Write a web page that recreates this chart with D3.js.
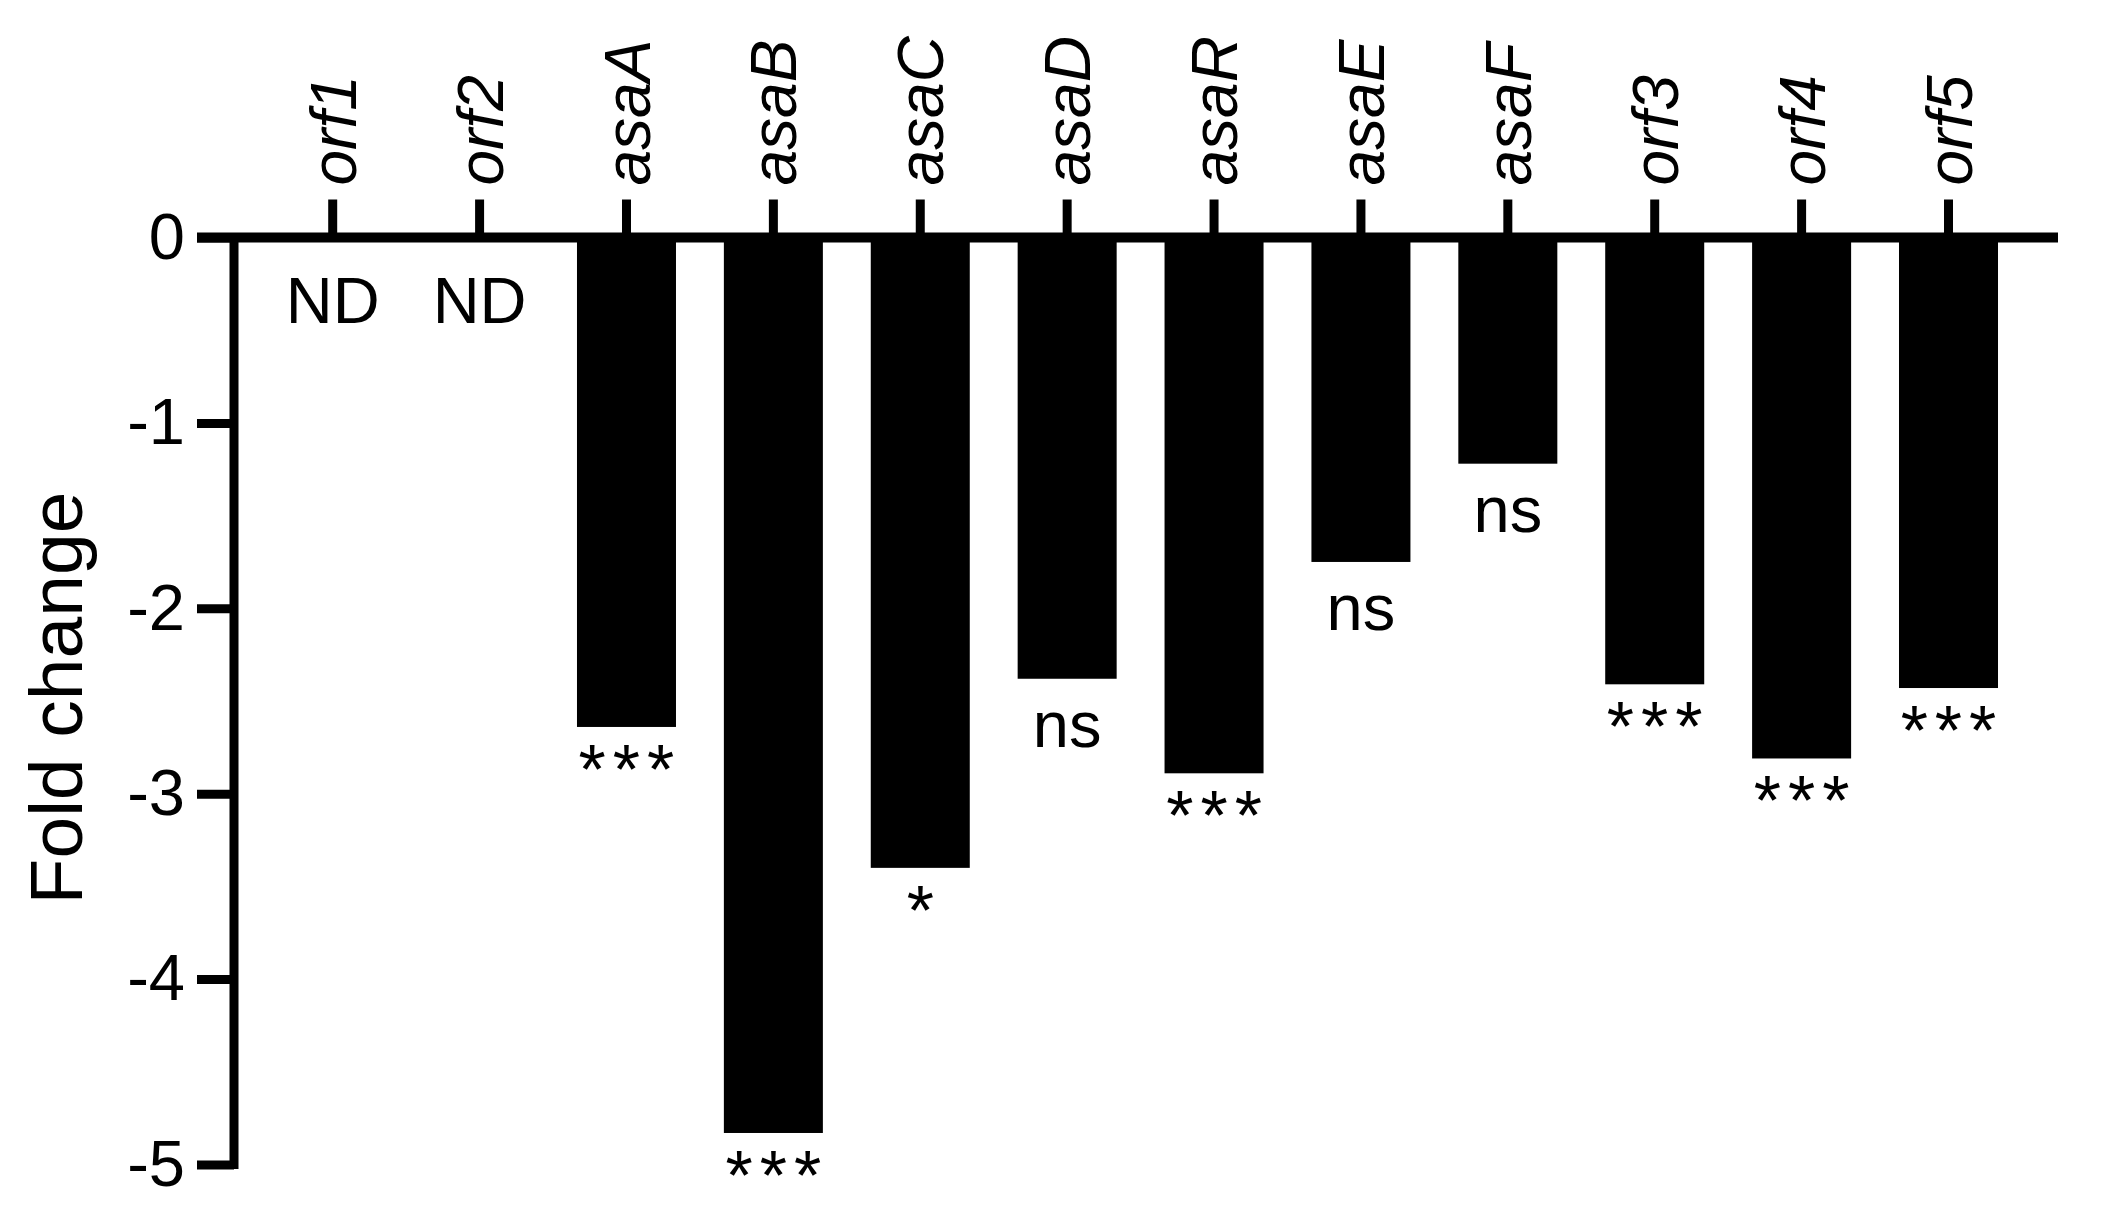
<!DOCTYPE html>
<html>
<head>
<meta charset="utf-8">
<script src="https://cdn.jsdelivr.net/npm/d3@7"></script>
<style>
  html, body { margin: 0; padding: 0; background: #fff; }
  svg { display: block; font-family: "Liberation Sans", Arial, Helvetica, sans-serif; }
</style>
</head>
<body>
<svg id="chart" width="2113" height="1206"></svg>
<script>
// ---- data ----
const categories = ["orf1", "orf2", "asaA", "asaB", "asaC", "asaD", "asaR", "asaE", "asaF", "orf3", "orf4", "orf5"];
const foldChange = [null, null, -2.64, -4.83, -3.40, -2.38, -2.89, -1.75, -1.22, -2.41, -2.81, -2.43];
const significance = ["ND", "ND", "***", "***", "*", "ns", "***", "ns", "ns", "***", "***", "***"];
const yTicks = [0, -1, -2, -3, -4, -5];
const yTitle = "Fold change";

// ---- layout ----
const W = 2113, H = 1206;
const axisX = 234;          // y-axis line position
const axisLeftEnd = 197;    // x-axis line starts (left tick end)
const axisRightEnd = 2058;  // x-axis line end
const firstCenter = 332.7, lastCenter = 1948.5;
const step = (lastCenter - firstCenter) / (categories.length - 1);
const lw = 9;

const svg = d3.select("#chart");

const x = d3.scaleBand()
  .domain(categories)
  .range([firstCenter - step / 2, lastCenter + step / 2])
  .paddingInner(0.326)
  .paddingOuter(0.163);

const y = d3.scaleLinear().domain([0, -5]).range([237.5, 1164.5]);

const data = categories.map((c, i) => ({ cat: c, v: foldChange[i], sig: significance[i] }));

// bars
svg.append("g").selectAll("rect")
  .data(data.filter(d => d.v !== null))
  .join("rect")
  .attr("x", d => x(d.cat))
  .attr("width", x.bandwidth())
  .attr("y", y(0))
  .attr("height", d => y(d.v) - y(0))
  .attr("fill", "#000");

// significance labels
const isStar = s => s.startsWith("*");
svg.append("g").selectAll("text")
  .data(data)
  .join("text")
  .attr("x", d => x(d.cat) + x.bandwidth() / 2 + (isStar(d.sig) ? 3.5 : 0))
  .attr("y", d => {
    if (d.v === null) return y(0) + 85;
    if (isStar(d.sig)) return y(d.v) + 67;
    return y(d.v) + 68;
  })
  .attr("text-anchor", "middle")
  .attr("font-size", d => isStar(d.sig) ? 70 : 65)
  .attr("letter-spacing", d => isStar(d.sig) ? "7px" : null)
  .attr("fill", "#000")
  .text(d => d.sig);

// y axis
const yAxis = svg.append("g")
  .attr("transform", `translate(${axisX},0)`)
  .call(d3.axisLeft(y).tickValues(yTicks).tickFormat(d => String(d))
    .tickSize(axisX - axisLeftEnd).tickSizeOuter(0).tickPadding(12));
yAxis.select(".domain").remove();
yAxis.selectAll(".tick line").attr("stroke", "#000").attr("stroke-width", lw);
yAxis.selectAll(".tick text").attr("font-size", 65).attr("fill", "#000").attr("font-family", "Liberation Sans, Arial, sans-serif");
yAxis.append("line")
  .attr("x1", 0).attr("x2", 0)
  .attr("y1", y(0) - lw / 2).attr("y2", y(-5) + lw / 2)
  .attr("stroke", "#000").attr("stroke-width", lw);

// x axis (on top, ticks pointing up)
const xAxis = svg.append("g")
  .attr("transform", `translate(0,${y(0)})`)
  .call(d3.axisTop(x).tickSize(38).tickSizeOuter(0));
xAxis.select(".domain").remove();
xAxis.selectAll(".tick line").attr("stroke", "#000").attr("stroke-width", lw);
xAxis.selectAll(".tick text")
  .attr("x", 0).attr("y", 0).attr("dy", "0.36em")
  .attr("transform", "translate(0,-52) rotate(-90)")
  .attr("text-anchor", "start")
  .attr("font-size", 64)
  .attr("font-style", "italic")
  .attr("fill", "#000")
  .attr("font-family", "Liberation Sans, Arial, sans-serif");
xAxis.append("line")
  .attr("x1", axisLeftEnd).attr("x2", axisRightEnd)
  .attr("y1", 0).attr("y2", 0)
  .attr("stroke", "#000").attr("stroke-width", lw + 1);

// y title
svg.append("text")
  .attr("transform", `translate(82,${(y(0) + y(-5)) / 2 - 3}) rotate(-90)`)
  .attr("text-anchor", "middle")
  .attr("font-size", 75)
  .attr("fill", "#000")
  .text(yTitle);
</script>
</body>
</html>
